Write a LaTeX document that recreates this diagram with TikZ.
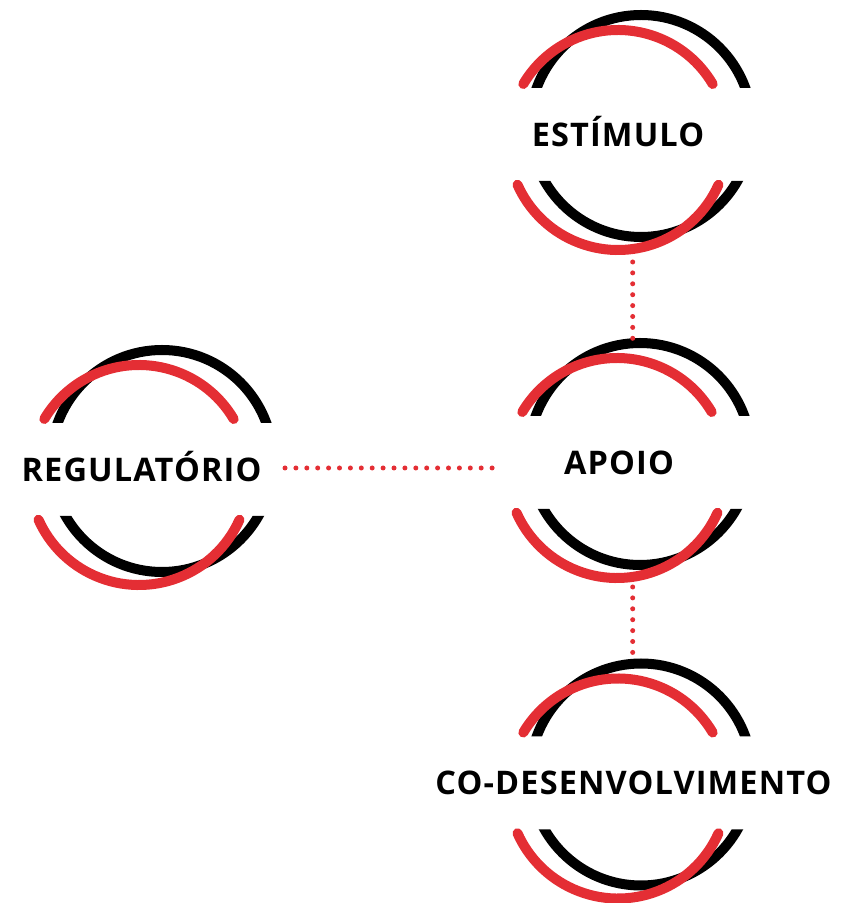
\documentclass[tikz,border=0pt]{standalone}
\usepackage{fontspec}
\setmainfont{Open Sans}
\newfontfamily\ringfont{Open Sans}[LetterSpace=3.5]
\usepackage{tikz}
\usetikzlibrary{positioning}
\usepackage{xcolor}

\definecolor{ringred}{RGB}{228,46,52}

\tikzset{
  blackring/.style={line width=10pt, black},
  redring/.style={line width=10pt, ringred, line cap=round},
  ringtext/.style={font=\ringfont\bfseries\fontsize{32.5}{36}\selectfont, inner sep=0pt, anchor=base},
  dotline/.style={ringred, line width=5pt, line cap=round, dash pattern=on 0pt off 10.9pt},
}

% black ring cut open in the middle, red ring shifted down-left
\newcommand{\ringpair}[1]{%
  \begin{scope}[shift={(#1)}]
    \begin{scope}
      \clip (-130,38) rectangle (130,130) (-130,-55) rectangle (130,-130);
      \draw[blackring] (0,0) circle (111);
    \end{scope}
    \draw[redring] (-23,-14) ++(30.6:110) arc (30.6:149.4:110);
    \draw[redring] (-23,-14) ++(-24:110) arc (-24:-156:110);
  \end{scope}}

\begin{document}
\begin{tikzpicture}[x=1pt, y=1pt]
        \useasboundingbox (0,0) rectangle (845,903);

        % ring centres
        \coordinate (estimulo-c) at (641,777);
        \coordinate (apoio-c) at (640,449);
        \coordinate (regulatorio-c) at (162,442);
        \coordinate (codesenv-c) at (641,128.5);

        \ringpair{estimulo-c}
        \ringpair{apoio-c}
        \ringpair{regulatorio-c}
        \ringpair{codesenv-c}

        % labels
        \node[ringtext] (estimulo) at (618,756) {ESTÍMULO};
        \node[ringtext] (apoio) at (619,428) {APOIO};
        \node[ringtext] (regulatorio) at (141.5,421) {REGULATÓRIO};
        \node[ringtext] (codesenv) at (633.5,108) {CO-DESENVOLVIMENTO};

        % dotted links
        \coordinate (estimulo-out) at (632.7,641);
        \coordinate (apoio-top) at (632.7,564.7);
        \coordinate (apoio-bot) at (632.7,316);
        \coordinate (codesenv-top) at (632.7,250.6);
        \coordinate (regulatorio-out) at (285,435);
        \coordinate (apoio-left) at (492.1,435);

        \draw[dotline] (estimulo-out) -- (apoio-top);
        \draw[dotline] (apoio-bot) -- (codesenv-top);
        \draw[dotline] (regulatorio-out) -- (apoio-left);
\end{tikzpicture}
\end{document}
